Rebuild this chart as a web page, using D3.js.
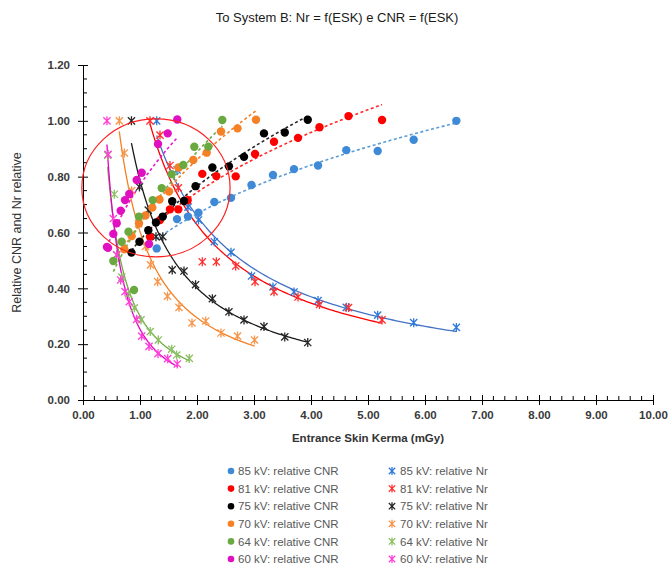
<!DOCTYPE html>
<html><head><meta charset="utf-8">
<script src="https://cdn.jsdelivr.net/npm/d3@7"></script>
<style>body{margin:0;background:#fff;} svg{display:block;}</style>
</head><body><svg id="chart" width="669" height="568"></svg>
<script>
const chartTitle = "To System B: Nr = f(ESK) e CNR = f(ESK)";
const xTitle = "Entrance Skin Kerma (mGy)";
const yTitle = "Relative CNR  and  Nr relative";
const xTicks = [0,1,2,3,4,5,6,7,8,9,10];
const yTicks = [0,0.2,0.4,0.6,0.8,1.0,1.2];

// 85 kV
const esk85 = [1.293,1.649,1.842,2.026,2.304,2.596,2.956,3.333,3.702,4.123,4.619,5.170,5.802,6.550];
const cnr85 = [0.543,0.648,0.657,0.671,0.709,0.724,0.770,0.806,0.827,0.840,0.895,0.892,0.932,1.000];
const nr85  = [1.000,0.824,0.691,0.645,0.567,0.529,0.444,0.405,0.387,0.356,0.332,0.304,0.277,0.260];
// 81 kV
const esk81 = [1.175,1.351,1.526,1.672,1.837,2.093,2.339,2.679,3.018,3.351,3.772,4.149,4.658,5.246];
const cnr81 = [0.585,0.645,0.683,0.683,0.716,0.810,0.802,0.801,0.881,0.925,0.939,0.977,1.017,1.003];
const nr81  = [1.000,0.949,0.840,0.760,0.716,0.495,0.495,0.480,0.424,0.388,0.369,0.342,0.331,0.287];
// 75 kV
const esk75 = [0.850,0.990,1.146,1.280,1.400,1.565,1.772,1.975,2.270,2.560,2.825,3.175,3.540,3.943];
const cnr75 = [0.528,0.567,0.608,0.636,0.657,0.712,0.713,0.766,0.833,0.837,0.871,0.955,0.958,1.004];
const nr75  = [1.000,0.763,0.680,0.585,0.585,0.466,0.462,0.413,0.363,0.316,0.287,0.263,0.226,0.206];
// 70 kV
const eskCnr70 = [0.725,0.854,0.982,1.096,1.216,1.342,1.509,1.675,1.935,2.170,2.421,2.711,3.035];
const cnr70    = [0.540,0.587,0.632,0.661,0.689,0.718,0.747,0.833,0.860,0.886,0.962,0.973,1.004];
const eskNr70  = [0.637,0.725,0.854,0.974,1.096,1.184,1.310,1.482,1.684,1.912,2.153,2.421,2.711,3.009];
const nr70     = [1.000,0.885,0.750,0.632,0.550,0.484,0.424,0.372,0.332,0.276,0.283,0.240,0.229,0.215];
// 64 kV
const eskCnr64 = [0.532,0.679,0.798,0.895,0.982,1.223,1.381,1.556,1.760,1.953,2.198,2.444];
const cnr64    = [0.498,0.567,0.603,0.394,0.657,0.716,0.759,0.809,0.842,0.907,0.907,1.003];
const eskNr64  = [0.433,0.549,0.591,0.680,0.800,0.900,1.018,1.180,1.321,1.556,1.644,1.865];
const nr64     = [0.877,0.737,0.519,0.440,0.380,0.330,0.287,0.245,0.215,0.182,0.161,0.149];
// 60 kV
const esk60 = [0.420,0.440,0.532,0.591,0.661,0.737,0.812,0.942,1.030,1.158,1.316,1.486,1.654];
const cnr60 = [0.548,0.545,0.595,0.633,0.678,0.716,0.738,0.788,0.814,0.559,0.917,0.955,1.005];
const nr60  = [1.000,0.880,0.650,0.520,0.430,0.388,0.352,0.289,0.229,0.192,0.166,0.148,0.129];

// highlighted region (data units)
const circleCenter = [1.28, 0.76];
const circleRadii = [1.30, 0.247];

const series = [
  {kv:"85", cx:esk85, cy:cnr85, nx:esk85, ny:nr85, dot:"#3f8ad6", star:"#2f7ad8", cl:"#5b9bd5", nl:"#4472c4"},
  {kv:"81", cx:esk81, cy:cnr81, nx:esk81, ny:nr81, dot:"#ff0000", star:"#ff3030", cl:"#ff2a2a", nl:"#ff0000"},
  {kv:"75", cx:esk75, cy:cnr75, nx:esk75, ny:nr75, dot:"#000000", star:"#262626", cl:"#262626", nl:"#1a1a1a"},
  {kv:"70", cx:eskCnr70, cy:cnr70, nx:eskNr70, ny:nr70, dot:"#f58025", star:"#f7964a", cl:"#f58025", nl:"#f58025"},
  {kv:"64", cx:eskCnr64, cy:cnr64, nx:eskNr64, ny:nr64, dot:"#6aa840", star:"#8cc063", cl:"#70ad47", nl:"#70ad47"},
  {kv:"60", cx:esk60, cy:cnr60, nx:esk60, ny:nr60, dot:"#e010c0", star:"#ff40d8", cl:"#e81ad0", nl:"#e600c8"}
];

const svg = d3.select("#chart");
const mLeft = 83, mRight = 653, mTop = 65, mBottom = 400;
const x = d3.scaleLinear().domain([0,10]).range([mLeft,mRight]);
const y = d3.scaleLinear().domain([0,1.2]).range([mBottom,mTop]);
const font = "'Liberation Sans', Arial, sans-serif";

svg.append("text").attr("x",337).attr("y",22).attr("text-anchor","middle")
  .attr("font-family",font).attr("font-size",13).attr("fill","#1a1a1a").text(chartTitle);

// axes
const gx = svg.append("g").attr("transform",`translate(0,${mBottom})`);
gx.call(d3.axisBottom(x).tickValues(xTicks).tickSizeInner(5).tickSizeOuter(0).tickPadding(6).tickFormat(d3.format(".2f")));
gx.selectAll(".tick line").attr("y1",-5).attr("y2",5);
const minorX = d3.range(0,10.001,0.2).filter(v=>Math.abs(v-Math.round(v))>1e-6);
gx.append("g").selectAll("line").data(minorX).join("line")
  .attr("x1",d=>x(d)).attr("x2",d=>x(d)).attr("y1",0).attr("y2",-4).attr("stroke","#000");
const gy = svg.append("g").attr("transform",`translate(${mLeft},0)`);
gy.call(d3.axisLeft(y).tickValues(yTicks).tickSizeInner(5).tickSizeOuter(0).tickPadding(8).tickFormat(d3.format(".2f")));
gy.selectAll(".tick line").attr("x1",-5).attr("x2",5);
const minorY = d3.range(0,1.2001,0.05).filter(v=>Math.abs(v*5-Math.round(v*5))>1e-6);
gy.append("g").selectAll("line").data(minorY).join("line")
  .attr("y1",d=>y(d)).attr("y2",d=>y(d)).attr("x1",0).attr("x2",4).attr("stroke","#000");
[gx,gy].forEach(g=>{
  g.select(".domain").attr("stroke","#000");
  g.selectAll(".tick line").attr("stroke","#000");
  g.selectAll("text").attr("font-family",font).attr("font-size",11.5).attr("fill","#3a3a3a").attr("font-weight","bold");
});

svg.append("text").attr("x",(mLeft+mRight)/2).attr("y",442).attr("text-anchor","middle")
  .attr("font-family",font).attr("font-size",11.5).attr("font-weight","bold").attr("fill","#333").text(xTitle);
svg.append("text").attr("transform",`translate(21,${(mTop+mBottom)/2}) rotate(-90)`).attr("text-anchor","middle")
  .attr("font-family",font).attr("font-size",12.5).attr("fill","#333").text(yTitle);

// power trendline fit
function powerFit(xs, ys){
  const lx = xs.map(Math.log), ly = ys.map(Math.log);
  const mx = d3.mean(lx), my = d3.mean(ly);
  let sxy=0, sxx=0;
  lx.forEach((v,i)=>{sxy+=(v-mx)*(ly[i]-my); sxx+=(v-mx)*(v-mx);});
  const b = sxy/sxx, a = Math.exp(my-b*mx);
  return t => a*Math.pow(t,b);
}
const line = d3.line().x(d=>x(d[0])).y(d=>y(d[1]));
const gl = svg.append("g");
series.forEach(s=>{
  const fc = powerFit(s.cx, s.cy);
  const [c0,c1] = d3.extent(s.cx);
  const ptsC = d3.range(0,61).map(i=>{const t=c0+(c1-c0)*i/60; return [t,fc(t)];});
  gl.append("path").attr("d",line(ptsC)).attr("fill","none").attr("stroke",s.cl)
    .attr("stroke-width",1.6).attr("stroke-dasharray","3,2.5");
  const fn = powerFit(s.nx, s.ny);
  const [n0,n1] = d3.extent(s.nx);
  const ptsN = d3.range(0,81).map(i=>{const t=n0+(n1-n0)*i/80; return [t,fn(t)];});
  gl.append("path").attr("d",line(ptsN)).attr("fill","none").attr("stroke",s.nl).attr("stroke-width",1.3);
});

function starPath(r){
  const d = r*0.8;
  return `M0,${-r}L0,${r}M${-d},${-d}L${d},${d}M${-d},${d}L${d},${-d}`;
}
const gm = svg.append("g");
series.forEach(s=>{
  gm.append("g").selectAll("path").data(s.nx.map((v,i)=>[v,s.ny[i]])).join("path")
    .attr("transform",d=>`translate(${x(d[0])},${y(d[1])})`)
    .attr("d",starPath(4.5)).attr("stroke",s.star).attr("stroke-width",1.3).attr("fill","none");
});
series.forEach(s=>{
  gm.append("g").selectAll("circle").data(s.cx.map((v,i)=>[v,s.cy[i]])).join("circle")
    .attr("cx",d=>x(d[0])).attr("cy",d=>y(d[1])).attr("r",4.2).attr("fill",s.dot);
});

// highlight ellipse
svg.append("ellipse").attr("cx",x(circleCenter[0])).attr("cy",y(circleCenter[1]))
  .attr("rx",x(circleRadii[0])-x(0)).attr("ry",y(0)-y(circleRadii[1]))
  .attr("fill","none").attr("stroke","#ff2020").attr("stroke-width",1.2);

// legend
const lg = svg.append("g");
const rowY = d3.range(6).map(i=>471+i*17.6);
series.forEach((s,i)=>{
  lg.append("circle").attr("cx",231).attr("cy",rowY[i]).attr("r",3.3).attr("fill",s.dot);
  lg.append("text").attr("x",238).attr("y",rowY[i]+4.2).attr("font-family",font).attr("font-size",11.5)
    .attr("fill","#595959").text(`${s.kv} kV: relative CNR`);
  lg.append("path").attr("transform",`translate(392,${rowY[i]})`).attr("d",starPath(4))
    .attr("stroke",s.star).attr("stroke-width",1.3).attr("fill","none");
  lg.append("text").attr("x",400).attr("y",rowY[i]+4.2).attr("font-family",font).attr("font-size",11.5)
    .attr("fill","#595959").text(`${s.kv} kV: relative Nr`);
});
</script></body></html>
